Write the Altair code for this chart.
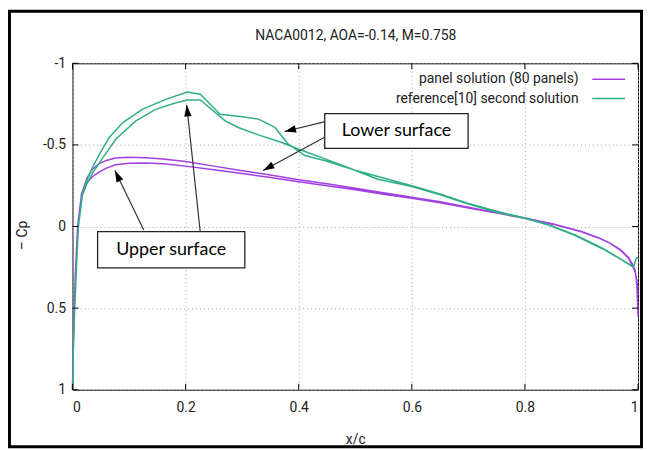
import math
import altair as alt
import pandas as pd

W, H = 570, 329

title_text = "NACA0012, AOA=-0.14, M=0.758"
series_names = ["panel solution (80 panels)", "reference[10] second solution"]
series_colors = ["#a23fe0", "#2fae88"]

x_ticks = [0, 0.2, 0.4, 0.6, 0.8, 1]
y_ticks = [-1, -0.5, 0, 0.5, 1]

# panel solution (80 panels): surface with the stronger suction
panel_a_x = [0, 0.001, 0.003, 0.005, 0.009, 0.016, 0.026, 0.035, 0.047, 0.06,
             0.076, 0.1, 0.13, 0.16, 0.2, 0.25, 0.3, 0.35, 0.4, 0.45,
             0.5, 0.55, 0.6, 0.65, 0.7, 0.75, 0.8, 0.85, 0.9, 0.93,
             0.95, 0.97, 0.983, 0.99, 0.995, 0.998, 1.0]
panel_a_cp = [1.0, 0.8, 0.5, 0.3, 0.0, -0.2, -0.3, -0.35, -0.385, -0.405,
              -0.42, -0.425, -0.422, -0.413, -0.398, -0.37, -0.342, -0.315, -0.287, -0.262,
              -0.235, -0.207, -0.18, -0.152, -0.118, -0.085, -0.052, -0.015, 0.03, 0.068,
              0.1, 0.145, 0.19, 0.23, 0.27, 0.36, 0.55]
# panel solution: other surface
panel_b_x = panel_a_x
panel_b_cp = [1.0, 0.8, 0.5, 0.3, 0.0, -0.19, -0.27, -0.305, -0.333, -0.358,
              -0.378, -0.388, -0.389, -0.384, -0.37, -0.348, -0.325, -0.3, -0.274, -0.25,
              -0.225, -0.198, -0.173, -0.146, -0.113, -0.082, -0.05, -0.013, 0.032, 0.07,
              0.102, 0.148, 0.195, 0.24, 0.28, 0.33, 0.42]

# reference[10] second solution: surface with the higher peak
ref_a_x = [0, 0.0015, 0.004, 0.007, 0.0105, 0.0175, 0.025, 0.035, 0.048, 0.065,
           0.089, 0.124, 0.165, 0.203, 0.226, 0.261, 0.3, 0.329, 0.358, 0.381,
           0.411, 0.45, 0.5, 0.54, 0.6, 0.65, 0.7, 0.75, 0.8, 0.843,
           0.889, 0.937, 0.972, 0.992, 0.997, 1.0]
ref_a_cp = [1.0, 0.75, 0.5, 0.25, 0.0, -0.2, -0.28, -0.36, -0.445, -0.546,
            -0.637, -0.719, -0.779, -0.824, -0.81, -0.688, -0.672, -0.658, -0.607, -0.506,
            -0.435, -0.4, -0.345, -0.307, -0.25, -0.2, -0.142, -0.093, -0.052, -0.01,
            0.052, 0.133, 0.204, 0.248, 0.193, 0.19]
# reference: other surface
ref_b_x = [0, 0.0015, 0.004, 0.007, 0.0105, 0.0175, 0.025, 0.036, 0.054, 0.077,
           0.112, 0.147, 0.18, 0.203, 0.226, 0.27, 0.293, 0.33, 0.369, 0.399,
           0.45, 0.486, 0.54, 0.6, 0.65, 0.7, 0.75, 0.8, 0.843, 0.889,
           0.937, 0.972, 0.992, 0.997, 1.0]
ref_b_cp = [1.0, 0.75, 0.5, 0.25, 0.0, -0.19, -0.26, -0.33, -0.424, -0.536,
            -0.647, -0.718, -0.755, -0.775, -0.775, -0.647, -0.607, -0.56, -0.516, -0.475,
            -0.41, -0.363, -0.29, -0.245, -0.195, -0.137, -0.088, -0.05, -0.008, 0.055,
            0.136, 0.206, 0.25, 0.195, 0.19]

# annotations (data coordinates)
box_labels = ["Lower surface", "Upper surface"]
box_x1 = [0.446, 0.0444]
box_x2 = [0.6995, 0.3047]
box_y1 = [-0.692, 0.0316]
box_y2 = [-0.479, 0.254]

arrow_tail_x = [0.445, 0.445, 0.126, 0.226]
arrow_tail_y = [-0.641, -0.546, 0.021, 0.038]
arrow_head_x = [0.375, 0.337, 0.075, 0.202]
arrow_head_y = [-0.582, -0.343, -0.343, -0.745]

legend_text_x = 0.895
legend_line_x = [0.919, 0.977]
legend_y = [-0.903, -0.784]

TXT = "#222222"
FONT = "Roboto"


def loop(name, xa, va, xb, vb):
    xs = list(reversed(xa)) + list(xb[1:])
    vs = list(reversed(va)) + list(vb[1:])
    return pd.DataFrame({"series": name, "x": xs, "v": vs, "k": list(range(len(xs)))})


curves = pd.concat([
    loop(series_names[0], panel_a_x, panel_a_cp, panel_b_x, panel_b_cp),
    loop(series_names[1], ref_a_x, ref_a_cp, ref_b_x, ref_b_cp),
], ignore_index=True)

xscale = alt.Scale(domain=[0, 1], nice=False, zero=False)
yscale = alt.Scale(domain=[-1, 1], reverse=True, nice=False, zero=False)
cscale = alt.Scale(domain=series_names, range=series_colors)

xaxis = alt.Axis(values=x_ticks, labelExpr="datum.value + ''", title="x/c",
                 titleX=285, titleY=50, titleBaseline="middle", titleAlign="center",
                 titleFont=FONT, titleFontSize=14, titleFontWeight="normal", titleColor=TXT,
                 ticks=False, domain=False, grid=True, gridDash=[1, 3], gridColor="#a5a5a5",
                 labelPadding=11, labelFont=FONT, labelFontSize=14, labelColor=TXT)
yaxis = alt.Axis(values=y_ticks, labelExpr="datum.value + ''", title="– Cp",
                 titleX=-50, titleY=173, titleAngle=270, titleBaseline="middle", titleAlign="center",
                 titleFont=FONT, titleFontSize=14, titleFontWeight="normal", titleColor=TXT,
                 ticks=False, domain=False, grid=True, gridDash=[1, 3], gridColor="#a5a5a5",
                 labelPadding=7, labelFont=FONT, labelFontSize=14, labelColor=TXT)


def X(f):
    return alt.X(f, scale=xscale, axis=xaxis)


def Y(f):
    return alt.Y(f, scale=yscale, axis=yaxis)


lines = alt.Chart(curves).mark_line(strokeWidth=1.5).encode(
    x=X("x:Q"), y=Y("v:Q"),
    color=alt.Color("series:N", scale=cscale, legend=None),
    detail="series:N",
    order="k:Q",
)

# inward tick marks on all four sides
xt = pd.DataFrame({"x": x_ticks})
yt = pd.DataFrame({"v": y_ticks})
tick_bottom = alt.Chart(xt).mark_rule(color="black").encode(
    x=X("x:Q"), y=alt.value(H), y2=alt.value(H - 6))
tick_top = alt.Chart(xt).mark_rule(color="black").encode(
    x=X("x:Q"), y=alt.value(0), y2=alt.value(6))
tick_left = alt.Chart(yt).mark_rule(color="black").encode(
    y=Y("v:Q"), x=alt.value(0), x2=alt.value(6))
tick_right = alt.Chart(yt).mark_rule(color="black").encode(
    y=Y("v:Q"), x=alt.value(W), x2=alt.value(W - 6))

# legend
leg = pd.DataFrame({"name": series_names, "v": legend_y,
                    "x": legend_text_x, "x1": legend_line_x[0], "x2": legend_line_x[1]})
leg_text = alt.Chart(leg).mark_text(align="right", baseline="middle", font=FONT,
                                    fontSize=14, color=TXT).encode(
    x=X("x:Q"), y=Y("v:Q"), text="name:N")
leg_line = alt.Chart(leg).mark_rule(strokeWidth=1.5).encode(
    x=X("x1:Q"), x2="x2:Q", y=Y("v:Q"),
    color=alt.Color("name:N", scale=cscale, legend=None))

# annotation arrows
px_x = W / 1.0
px_y = H / 2.0
angles = []
for tx, ty, hx, hy in zip(arrow_tail_x, arrow_tail_y, arrow_head_x, arrow_head_y):
    dx = (hx - tx) * px_x
    dy = (hy - ty) * px_y
    angles.append(math.degrees(math.atan2(dx, -dy)) % 360)
arr = pd.DataFrame({"tx": arrow_tail_x, "ty": arrow_tail_y,
                    "hx": arrow_head_x, "hy": arrow_head_y, "ang": angles})
arrow_lines = alt.Chart(arr).mark_rule(color="#333333", strokeWidth=1.2).encode(
    x=X("tx:Q"), y=Y("ty:Q"), x2="hx:Q", y2="hy:Q")
arrow_heads = alt.Chart(arr).mark_point(
    shape="M0,0L-0.75,2.3L0.75,2.3Z", filled=True, size=100, color="black", opacity=1).encode(
    x=X("hx:Q"), y=Y("hy:Q"), angle=alt.Angle("ang:Q", scale=None))

boxes = pd.DataFrame({"label": box_labels, "x1": box_x1, "x2": box_x2, "y1": box_y1, "y2": box_y2})
boxes["cx"] = (boxes["x1"] + boxes["x2"]) / 2
boxes["cy"] = (boxes["y1"] + boxes["y2"]) / 2
box_rect = alt.Chart(boxes).mark_rect(fill="white", stroke="#222222", strokeWidth=1.3).encode(
    x=X("x1:Q"), x2="x2:Q", y=Y("y1:Q"), y2="y2:Q")
box_text = alt.Chart(boxes).mark_text(font="Lato", fontSize=18, color="black",
                                      align="center", baseline="middle").encode(
    x=X("cx:Q"), y=Y("cy:Q"), text="label:N")

title_df = pd.DataFrame({"t": [title_text]})
title_mark = alt.Chart(title_df).mark_text(font=FONT, fontSize=14, color=TXT,
                                           align="center", baseline="middle").encode(
    x=alt.value(285.5), y=alt.value(-27.5), text="t:N")

frame = alt.Chart(title_df).mark_rect(fill="transparent", stroke="black", strokeWidth=3).encode(
    x=alt.value(-63.5), x2=alt.value(573.5), y=alt.value(-52.5), y2=alt.value(386.5))

chart = alt.layer(
    lines, tick_bottom, tick_top, tick_left, tick_right,
    leg_text, leg_line, arrow_lines, arrow_heads, box_rect, box_text, title_mark, frame,
).properties(
    width=W, height=H,
    autosize=alt.AutoSizeParams(type="none"),
    padding={"left": 65, "top": 54, "right": 5, "bottom": 59},
    background="white",
).configure_view(stroke="black", strokeWidth=1)

chart.save("out.html", embed_options={"renderer": "svg", "actions": False})
